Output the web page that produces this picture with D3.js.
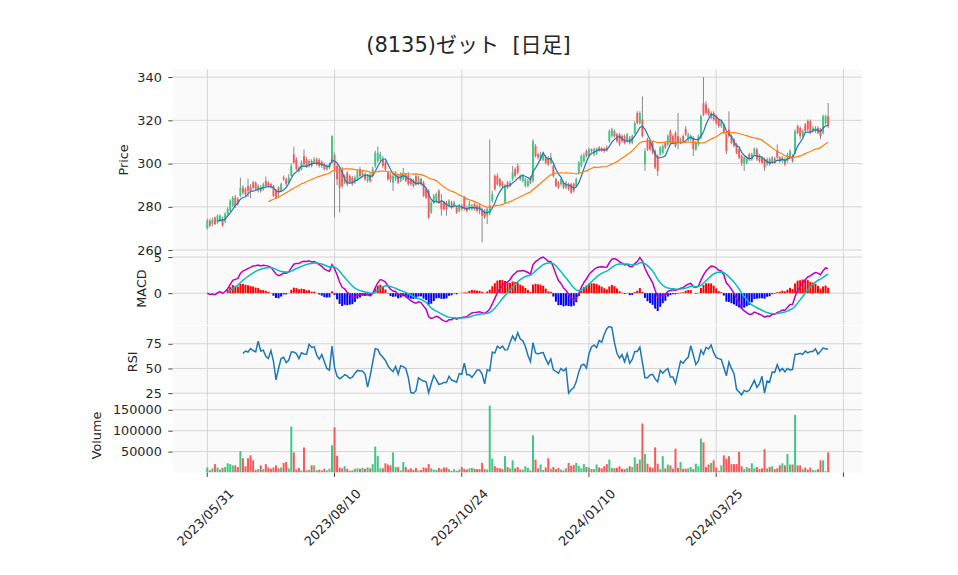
<!DOCTYPE html>
<html>
<head>
<meta charset="utf-8">
<style>
body { margin: 0; background: #fff; }
svg text { font-family: "DejaVu Sans", "Noto Sans CJK JP", sans-serif; fill: #262626; }
</style>
</head>
<body>
<svg id="chart" width="958" height="575"></svg>
<script src="https://cdn.jsdelivr.net/npm/d3@7/dist/d3.min.js"></script>
<script>
// daily candles (index based x axis)
var opens = [
270.0,273.6,272.0,275.0,272.8,273.6,274.4,273.1,276.7,278.2,280.5,284.3,283.6,285.1,288.9,288.2,289.7,289.0,291.2,291.2,
287.4,289.0,288.2,292.0,291.2,290.5,289.7,287.4,288.9,287.4,293.5,292.8,291.2,294.3,304.3,302.0,298.1,297.4,303.5,302.0,
298.9,301.2,300.4,302.0,301.6,300.7,299.6,297.4,298.1,300.4,304.0,298.9,298.1,297.4,291.2,295.8,294.3,293.5,291.2,292.8,
297.4,294.3,295.0,292.0,295.0,294.3,298.9,301.2,302.0,302.0,300.4,295.8,294.8,291.2,292.8,294.3,292.0,292.8,294.6,294.6,
292.8,292.0,294.3,290.5,292.8,291.2,288.2,287.4,277.4,282.0,282.8,287.4,282.8,282.0,282.0,280.5,282.0,280.5,279.7,278.2,
280.5,284.3,279.7,279.0,279.0,281.3,280.5,280.5,279.0,278.2,275.9,276.7,282.8,294.3,294.3,292.8,291.2,282.0,291.2,289.7,
292.8,297.4,298.9,294.3,292.0,289.7,289.7,293.5,292.0,308.1,304.3,302.0,301.6,302.8,302.4,300.0,298.9,292.8,291.2,290.5,
291.2,288.9,290.5,290.5,290.5,289.7,295.8,298.9,301.2,305.8,303.5,306.6,304.3,304.7,307.4,307.0,307.0,307.4,310.4,312.7,
315.0,313.5,313.5,312.7,312.7,310.4,311.9,309.6,314.2,323.4,318.8,320.4,299.7,311.2,310.4,309.6,305.8,303.5,304.3,305.0,
309.6,308.9,315.0,312.7,314.2,312.7,309.6,312.7,316.0,311.2,311.2,311.9,306.6,308.9,311.9,328.0,327.3,325.0,321.1,323.4,
321.9,320.4,317.3,318.0,313.5,315.8,312.7,311.2,308.9,306.6,303.5,299.7,300.4,304.3,302.0,304.3,306.6,303.9,302.8,302.0,
299.7,302.0,300.4,302.4,306.0,302.8,301.2,302.0,301.2,302.8,303.5,305.0,317.3,316.5,312.7,318.0,319.6,319.6,315.0,315.0,
316.5,315.8,314.2,318.8,321.9];
var highs = [
274.5,274.5,275.0,275.5,276.5,276.5,275.5,277.5,279.8,283.5,285.0,285.5,284.5,293.5,290.0,289.0,293.0,290.5,292.0,291.8,
290.5,290.0,291.2,294.0,292.0,291.2,290.2,288.2,289.5,291.2,294.5,293.5,295.0,300.0,307.8,303.0,299.0,301.5,306.6,303.0,
302.0,302.0,303.0,302.8,302.5,301.5,300.4,299.6,300.4,313.0,305.0,300.0,299.0,298.5,295.0,296.5,295.0,294.3,294.5,297.4,
298.5,297.0,296.0,295.0,296.0,298.5,306.0,307.8,305.5,303.5,301.5,296.6,295.5,295.0,296.6,295.0,296.0,298.0,295.5,296.0,
293.5,293.0,295.5,294.3,293.5,292.0,288.9,288.2,282.8,285.9,286.6,288.2,285.9,282.8,282.8,283.5,282.8,282.8,280.5,281.3,
281.3,285.1,280.5,282.8,281.3,282.0,281.3,281.3,279.7,279.0,279.7,311.2,287.4,295.0,295.5,293.5,292.0,290.5,292.0,292.0,
298.9,298.2,300.0,295.0,295.0,293.5,292.8,294.3,311.2,309.0,305.0,305.5,305.5,304.0,303.5,305.0,299.6,293.5,292.0,293.5,
292.0,292.0,291.2,291.2,291.2,293.5,301.2,304.3,305.0,306.6,307.4,307.0,307.4,307.4,308.1,307.8,307.5,308.5,315.8,316.5,
315.8,314.2,314.2,313.5,313.5,314.2,312.7,313.5,319.6,324.2,324.2,331.1,307.0,312.0,311.2,310.4,306.6,304.3,308.1,308.9,
310.4,313.5,315.8,313.5,315.0,323.4,312.0,313.5,317.3,314.2,313.5,312.7,310.4,313.5,322.6,340.0,328.8,325.7,324.2,324.2,
322.6,321.1,320.4,318.8,314.2,324.2,313.5,311.9,309.6,307.4,304.3,303.5,303.5,305.0,305.0,307.4,307.4,304.3,303.5,302.8,
302.8,302.8,303.5,303.1,308.9,303.5,303.5,302.8,305.0,306.6,304.3,315.8,318.0,317.3,315.8,318.8,320.4,320.4,317.3,317.3,
317.3,316.5,322.6,322.6,328.0];
var lows = [
269.5,270.5,271.0,271.5,272.0,273.0,270.8,272.5,276.0,277.5,280.0,279.5,280.5,284.5,285.5,285.0,284.5,284.0,288.0,287.4,
286.6,286.6,287.4,289.0,289.0,288.5,284.5,283.6,284.0,286.8,292.0,289.7,290.5,294.0,300.0,296.8,295.8,296.8,299.0,298.0,
298.2,298.2,299.8,299.0,298.2,298.0,296.8,296.8,297.4,300.0,275.1,290.0,277.4,288.5,290.5,289.5,290.5,289.7,290.5,292.0,
293.5,293.5,292.0,291.2,291.2,293.5,298.0,300.4,301.0,298.0,296.6,292.0,291.2,287.4,292.0,290.5,291.5,292.4,291.5,289.7,
289.7,289.0,289.7,290.0,289.7,284.5,283.6,274.4,276.7,281.3,282.0,281.3,275.9,278.2,275.9,279.7,279.0,279.7,276.7,277.4,
278.2,278.2,277.4,278.2,278.2,278.2,277.4,276.7,263.6,274.4,272.0,276.0,282.0,287.4,289.7,289.0,288.9,281.3,288.2,289.0,
292.0,293.5,295.0,292.0,291.2,289.0,289.0,290.5,291.2,302.8,302.0,301.2,301.2,299.6,298.9,299.6,293.5,289.0,288.2,289.7,
288.2,288.2,287.4,285.9,286.6,289.0,295.0,298.2,300.4,302.8,302.8,305.0,303.5,304.0,305.5,305.5,305.0,305.5,309.6,312.0,
312.0,309.6,308.1,309.6,308.9,309.6,308.9,308.9,313.5,318.0,318.0,312.0,296.6,305.8,305.8,304.3,297.4,294.3,303.5,304.3,
306.6,308.1,308.9,308.9,307.4,306.6,309.0,309.6,312.7,310.4,310.4,303.5,305.8,308.1,311.2,321.9,322.6,321.9,320.4,319.6,
318.0,316.5,316.5,313.5,304.3,312.0,308.9,307.4,304.3,302.0,298.9,296.6,299.6,301.2,301.2,303.5,301.2,300.4,299.7,296.6,
298.9,298.9,299.7,299.7,302.0,300.4,300.4,298.9,300.4,302.0,300.4,304.3,313.5,311.2,312.0,314.2,315.0,313.5,314.2,314.2,
313.5,311.2,313.5,318.0,316.5];
var closes = [
273.6,271.3,274.0,272.0,275.9,275.9,271.3,276.7,279.0,282.8,284.3,280.5,281.3,288.9,286.6,285.9,287.4,287.4,288.9,288.2,
289.7,287.4,290.5,289.7,289.7,289.0,285.1,284.3,286.6,290.5,292.8,290.5,293.5,298.9,300.4,297.4,296.6,300.4,299.8,298.9,
301.2,298.9,302.0,299.6,298.9,298.9,297.4,298.9,299.6,312.7,297.4,292.8,288.9,289.7,294.3,290.5,291.2,290.5,293.5,296.6,
294.3,295.8,292.8,294.3,292.0,297.4,305.0,305.0,304.3,298.9,297.4,292.8,292.8,294.3,295.8,291.2,295.0,295.8,292.0,290.5,
290.5,289.7,290.5,293.5,290.5,285.1,284.3,275.1,282.0,285.1,285.9,282.0,279.0,279.0,279.0,282.8,279.7,282.0,277.4,280.5,
279.0,279.0,278.2,281.3,280.5,279.0,278.2,278.2,275.9,275.1,279.0,280.8,285.9,288.2,290.5,289.7,289.7,289.7,289.0,291.2,
295.8,294.3,295.8,292.8,294.3,292.8,292.0,291.2,310.4,303.5,302.8,304.3,303.9,300.4,299.6,303.1,294.3,289.7,288.9,292.8,
288.9,291.2,288.2,286.6,287.4,292.8,300.4,303.5,303.9,303.5,306.6,305.8,306.6,307.0,306.2,306.2,305.8,306.6,315.0,315.8,
312.7,310.4,308.9,310.4,309.6,313.5,309.6,312.7,318.8,318.8,323.4,312.7,305.8,306.6,306.6,305.0,298.2,296.6,307.4,308.1,
307.4,312.7,309.6,309.6,308.1,309.6,311.2,310.4,313.5,313.5,312.7,306.6,309.6,312.7,321.9,322.6,323.4,322.6,323.4,320.4,
318.8,317.3,319.6,314.2,305.8,312.7,309.6,308.1,305.0,302.8,300.4,302.8,302.8,302.0,304.3,306.9,302.0,301.2,300.4,298.2,
302.0,299.7,302.8,300.4,302.8,301.2,302.8,299.7,304.3,305.8,301.2,315.0,314.2,312.7,315.0,315.0,315.8,314.2,316.5,316.5,
314.2,312.7,321.9,321.9,317.3];
var volumes = [
12000,5000,10000,20000,12000,7000,11000,13000,22000,20000,17000,17000,13000,51000,34000,15000,34000,41000,29000,6000,
8000,17000,8000,20000,12000,9000,12000,17000,10000,12000,23000,25000,10000,110000,48000,7000,11000,5000,60000,5000,
6000,17000,17000,5000,7000,5000,9000,5000,9000,65000,108000,40000,12000,10000,15000,9000,4000,5000,9000,10000,
9000,11000,9000,12000,10000,20000,62000,39000,10000,10000,22000,19000,17000,48000,13000,13000,5000,25000,13000,7000,
10000,6000,11000,5000,6000,12000,11000,20000,10000,7000,6000,11000,8000,12000,12000,8000,4000,8000,4000,7000,
13000,9000,7000,10000,11000,9000,8000,8000,23000,8000,7000,160000,33000,15000,11000,10000,8000,39000,13000,10000,
29000,10000,13000,7000,7000,15000,11000,5000,89000,31000,10000,19000,6000,12000,34000,9000,13000,8000,11000,7000,
5000,10000,23000,16000,18000,23000,16000,10000,20000,13000,12000,8000,8000,19000,12000,10000,15000,20000,31000,11000,
10000,11000,15000,9000,8000,10000,15000,13000,36000,21000,31000,117000,44000,21000,13000,11000,60000,21000,8000,39000,
10000,19000,17000,9000,57000,11000,25000,9000,9000,10000,13000,8000,21000,15000,81000,72000,13000,19000,23000,29000,
12000,4000,17000,41000,33000,39000,20000,20000,20000,49000,15000,8000,13000,10000,22000,10000,13000,8000,10000,56000,
10000,13000,15000,8000,10000,17000,22000,17000,44000,19000,19000,138000,17000,17000,8000,12000,7000,12000,6000,5000,
8000,29000,29000,3000,48000];

var tickIdx = [0, 50, 100, 150, 200, 250];
var tickLabels = ["2023/05/31", "2023/08/10", "2023/10/24", "2024/01/10", "2024/03/25", ""];
var priceTicks = [260, 280, 300, 320, 340];
var macdTicks = [0, 5];
var rsiTicks = [25, 50, 75];
var volTicks = [50000, 100000, 150000];
var title = "(8135)ゼット\u00a0\u00a0[日足]";

// ---- indicators ----
function sma(arr, n) {
  return arr.map(function(v, i) {
    if (i < n - 1) return null;
    return d3.mean(arr.slice(i - n + 1, i + 1));
  });
}
function ema(arr, span) {
  var a = 2 / (span + 1), out = [], prev;
  arr.forEach(function(v, i) {
    prev = i === 0 ? v : a * v + (1 - a) * prev;
    out.push(prev);
  });
  return out;
}
var ma5 = sma(closes, 5), ma25 = sma(closes, 25);
var e12 = ema(closes, 12), e26 = ema(closes, 26);
var macd = e12.map(function(v, i) { return v - e26[i]; });
var signal = ema(macd, 9).map(function(v, i) { return i < 8 ? null : v; });
var hist = macd.map(function(v, i) { return signal[i] == null ? null : v - signal[i]; });
var rsi = closes.map(function(c, i) {
  if (i < 14) return null;
  var up = 0, dn = 0;
  for (var k = i - 13; k <= i; k++) {
    var d = closes[k] - closes[k - 1];
    if (d > 0) up += d; else dn -= d;
  }
  return dn === 0 ? 100 : 100 - 100 / (1 + up / dn);
});

// ---- layout ----
var svg = d3.select("#chart");
var left = 172.7, right = 862;
var x = d3.scaleLinear().domain([-13.6, 257.3]).range([left, right]);
var bw = 1.9;
var upC = "#3dc985", dnC = "#f65a5a";

var panels = [
  {top: 69.3, bottom: 250.5, domain: [259.8, 343.6], ticks: priceTicks, label: "Price", lx: 123.3},
  {top: 252, bottom: 325, domain: [-4.4, 5.7], ticks: macdTicks, label: "MACD", lx: 141.7},
  {top: 326, bottom: 397.5, domain: [20.6, 93], ticks: rsiTicks, label: "RSI", lx: 132.3},
  {top: 398.5, bottom: 472.5, domain: [0, 176900], ticks: volTicks, label: "Volume", lx: 96.7}
];

panels.forEach(function(p) {
  p.y = d3.scaleLinear().domain(p.domain).range([p.bottom, p.top]);
  var g = svg.append("g");
  g.append("rect").attr("x", left).attr("y", p.top)
    .attr("width", right - left).attr("height", p.bottom - p.top).attr("fill", "#fafafa");
  var clipId = "clip" + p.label;
  svg.append("clipPath").attr("id", clipId).append("rect")
    .attr("x", left).attr("y", p.top).attr("width", right - left).attr("height", p.bottom - p.top);
  g.selectAll(".vg").data(tickIdx).enter().append("line")
    .attr("x1", function(d) { return x(d); }).attr("x2", function(d) { return x(d); })
    .attr("y1", p.top).attr("y2", p.bottom)
    .attr("stroke", "#d4d4d4").attr("stroke-width", 1);
  var ax = d3.axisLeft(p.y).tickValues(p.ticks).tickSize(4.4).tickPadding(6.5)
    .tickFormat(d3.format("d"));
  var ag = g.append("g").attr("transform", "translate(" + left + ",0)").call(ax);
  ag.select(".domain").remove();
  ag.selectAll(".tick line").attr("stroke", "#444");
  ag.selectAll(".tick text").attr("font-size", "12.8px").attr("fill", "#262626");
  g.selectAll(".hg").data(p.ticks).enter().append("line")
    .attr("x1", left).attr("x2", right)
    .attr("y1", function(d) { return p.y(d); }).attr("y2", function(d) { return p.y(d); })
    .attr("stroke", "#d4d4d4").attr("stroke-width", 1);
  svg.append("text").attr("transform", "translate(" + p.lx + "," + (p.top + p.bottom) / 2 + ") rotate(-90)")
    .attr("text-anchor", "middle").attr("dy", "0.35em").attr("font-size", "12.8px").text(p.label);
  p.plot = svg.append("g").attr("clip-path", "url(#" + clipId + ")");
});

var idx = d3.range(closes.length);

// price panel
var pp = panels[0];
var cg = pp.plot.selectAll(".c").data(idx).enter().append("g");
cg.append("line")
  .attr("x1", function(i) { return x(i); }).attr("x2", function(i) { return x(i); })
  .attr("y1", function(i) { return pp.y(highs[i]); }).attr("y2", function(i) { return pp.y(lows[i]); })
  .attr("stroke", "#8a8a8a").attr("stroke-width", 1);
cg.append("rect")
  .attr("x", function(i) { return x(i) - bw / 2; }).attr("width", bw)
  .attr("y", function(i) { return pp.y(Math.max(opens[i], closes[i])); })
  .attr("height", function(i) { return Math.max(1, Math.abs(pp.y(opens[i]) - pp.y(closes[i]))); })
  .attr("fill", function(i) { return closes[i] >= opens[i] ? upC : dnC; });

function linePath(arr, yScale) {
  return d3.line().defined(function(i) { return arr[i] != null; })
    .x(function(i) { return x(i); }).y(function(i) { return yScale(arr[i]); })(idx);
}
pp.plot.append("path").attr("d", linePath(ma5, pp.y)).attr("fill", "none")
  .attr("stroke", "#1f77b4").attr("stroke-width", 1.2);
pp.plot.append("path").attr("d", linePath(ma25, pp.y)).attr("fill", "none")
  .attr("stroke", "#ff7f0e").attr("stroke-width", 1.2);

// MACD panel
var mp = panels[1];
mp.plot.selectAll(".h").data(idx.filter(function(i) { return hist[i] != null; })).enter().append("rect")
  .attr("x", function(i) { return x(i) - 1; }).attr("width", 2)
  .attr("y", function(i) { return mp.y(Math.max(0, hist[i])); })
  .attr("height", function(i) { return Math.abs(mp.y(hist[i]) - mp.y(0)); })
  .attr("fill", function(i) { return hist[i] >= 0 ? "#ff0000" : "#0000ff"; });
mp.plot.append("path").attr("d", linePath(macd, mp.y)).attr("fill", "none")
  .attr("stroke", "#bf00bf").attr("stroke-width", 1.5);
mp.plot.append("path").attr("d", linePath(signal, mp.y)).attr("fill", "none")
  .attr("stroke", "#00bfbf").attr("stroke-width", 1.5);

// RSI panel
var rp = panels[2];
rp.plot.append("path").attr("d", linePath(rsi, rp.y)).attr("fill", "none")
  .attr("stroke", "#1f77b4").attr("stroke-width", 1.5);

// volume panel
var vp = panels[3];
vp.plot.selectAll(".v").data(idx).enter().append("rect")
  .attr("x", function(i) { return x(i) - 1; }).attr("width", 2)
  .attr("y", function(i) { return vp.y(volumes[i]); })
  .attr("height", function(i) { return vp.y(0) - vp.y(volumes[i]); })
  .attr("fill", function(i) { return closes[i] >= opens[i] ? upC : dnC; });

// x axis
var xg = svg.append("g").attr("transform", "translate(0," + vp.bottom + ")");
xg.selectAll("line").data(tickIdx).enter().append("line")
  .attr("x1", function(d) { return x(d); }).attr("x2", function(d) { return x(d); })
  .attr("y1", 0).attr("y2", 4.4).attr("stroke", "#444");
xg.selectAll("text").data(tickIdx).enter().append("text")
  .attr("transform", function(d) { return "translate(" + (x(d) - 2) + ",45) rotate(-45)"; })
  .attr("text-anchor", "middle").attr("dy", "0.35em").attr("font-size", "12.8px")
  .text(function(d, i) { return tickLabels[i]; });

svg.append("text").attr("x", 468.5).attr("y", 52).attr("text-anchor", "middle")
  .attr("font-size", "21px").text(title);
</script>
</body>
</html>
